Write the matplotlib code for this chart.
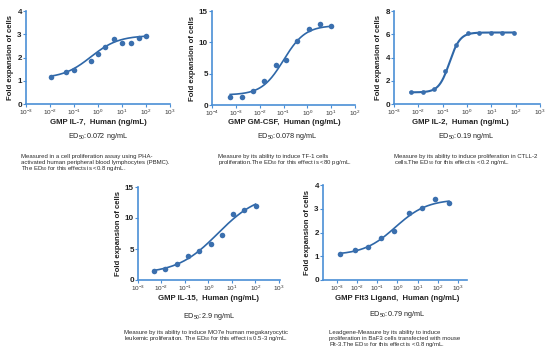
import numpy as np
import matplotlib
matplotlib.use("Agg")
import matplotlib.pyplot as plt

plt.rcParams['font.family'] = ['Liberation Sans', 'DejaVu Sans']
plt.rcParams['mathtext.fontset'] = 'custom'
plt.rcParams['mathtext.rm'] = 'Liberation Sans'
plt.rcParams['mathtext.it'] = 'Liberation Sans'
plt.rcParams['mathtext.bf'] = 'Liberation Sans:bold'

# ---------------- data ----------------
il7_x = [0.0107, 0.048, 0.10, 0.49, 1.0, 2.04, 4.8, 10.0, 24.0, 49.0, 100.0]
il7_y = [1.15, 1.36, 1.47, 1.87, 2.17, 2.46, 2.80, 2.62, 2.61, 2.83, 2.93]
il7_fit = dict(bottom=1.10, top=2.95, logec50=-0.30, hill=0.75)

gm_x = [5.8e-4, 1.8e-3, 5.2e-3, 1.5e-2, 4.7e-2, 0.133, 0.363, 1.17, 3.24, 10.0]
gm_y = [1.23, 1.33, 2.19, 3.84, 6.40, 7.26, 10.20, 12.07, 12.87, 12.65]
gm_fit = dict(bottom=1.60, top=12.70, logec50=-1.00, hill=0.95)

il2_x = [4.8e-3, 1.5e-2, 4.3e-2, 0.13, 0.36, 1.12, 3.24, 9.3, 28.0, 85.0]
il2_y = [1.03, 1.03, 1.26, 2.80, 5.11, 6.14, 6.14, 6.14, 6.14, 6.14]
il2_fit = dict(bottom=1.00, top=6.15, logec50=-0.72, hill=2.0)

il15_x = [4.6e-3, 1.45e-2, 4.4e-2, 0.129, 0.41, 1.26, 3.9, 11.5, 34.0, 102.0]
il15_y = [1.50, 1.71, 2.52, 3.91, 4.60, 5.73, 7.28, 10.60, 11.36, 11.90]
il15_fit = dict(bottom=1.00, top=14.00, logec50=0.40, hill=0.50)

flt_x = [1.5e-3, 7.8e-3, 3.5e-2, 0.162, 0.69, 3.55, 16.6, 76.0, 355.0]
flt_y = [1.09, 1.25, 1.38, 1.75, 2.06, 2.84, 3.05, 3.41, 3.26]
flt_fit = dict(bottom=1.05, top=3.40, logec50=-0.10, hill=0.55)

# ---------------- layout ----------------
W, H = 554, 357
fig = plt.figure(figsize=(W / 100, H / 100), dpi=100)
fig.patch.set_facecolor('white')

AX_COL = '#4a8fd6'
LINE_COL = '#2e67a8'
PT_COL = '#3a6fae'


def frac_rect(l, r, t, b):
    return [l / W, 1 - b / H, (r - l) / W, (b - t) / H]


def fpl(x, p):
    lx = np.log10(x)
    return p['bottom'] + (p['top'] - p['bottom']) / (1 + 10 ** ((p['logec50'] - lx) * p['hill']))


def panel(rect, xs, ys, fit, xlim, xticks, ylim, yticks, ms=4.0, lw=1.2):
    ax = fig.add_axes(rect)
    ax.set_xscale('log')
    xx = np.logspace(np.log10(min(xs)), np.log10(max(xs)), 300)
    ax.plot(xx, fpl(xx, fit), color=LINE_COL, lw=lw, zorder=2)
    ax.plot(xs, ys, 'o', color=PT_COL, ms=ms, mec='none', zorder=3)
    ax.set_xlim(*xlim)
    ax.set_ylim(*ylim)
    ax.set_xticks(xticks)
    ax.set_xticklabels([r'$10^{%d}$' % int(round(np.log10(t))) for t in xticks])
    ax.xaxis.set_minor_locator(matplotlib.ticker.NullLocator())
    ax.set_yticks(yticks)
    ax.set_yticklabels([str(v) for v in yticks], fontweight='bold')
    for s in ['top', 'right']:
        ax.spines[s].set_visible(False)
    for s in ['left', 'bottom']:
        ax.spines[s].set_color(AX_COL)
        ax.spines[s].set_linewidth(1.2)
    ax.tick_params(axis='both', colors=AX_COL, length=2, width=0.8, pad=1)
    ax.tick_params(axis='x', labelsize=4.6, labelcolor='#333333')
    ax.tick_params(axis='y', labelsize=5.8, labelcolor='#222222')
    ax.set_ylabel('Fold expansion of cells', fontsize=5.6, fontweight='bold',
                  color='#222222', labelpad=2)
    ax.patch.set_alpha(0)
    return ax


def ftext(x, y, s, **kw):
    fig.text(x / W, 1 - y / H, s, **kw)


def desc(x, y, lines, step=5.8):
    for i, ln in enumerate(lines):
        fig.text(x / W, 1 - (y + i * step) / H, ln, fontsize=4.3, color='#2a2a2a',
                 ha='left', va='baseline')


decades = lambda a, b: [10.0 ** k for k in range(a, b + 1)]

panel(frac_rect(26, 170, 11, 104), il7_x, il7_y, il7_fit,
      (1e-3, 1e3), decades(-3, 3), (0, 4), [0, 1, 2, 3, 4])
panel(frac_rect(212, 355, 11, 105), gm_x, gm_y, gm_fit,
      (1e-4, 1e2), decades(-4, 2), (0, 15), [0, 5, 10, 15])
panel(frac_rect(394, 540, 11, 104), il2_x, il2_y, il2_fit,
      (1e-3, 1e3), decades(-3, 3), (0, 8), [0, 2, 4, 6, 8], ms=3.4, lw=1.5)
panel(frac_rect(138, 280, 187, 280), il15_x, il15_y, il15_fit,
      (1e-3, 10 ** 3.05), decades(-3, 3), (0, 15), [0, 5, 10, 15])
panel(frac_rect(323, 467, 185, 280), flt_x, flt_y, flt_fit,
      (10 ** -3.69, 10 ** 3.45), decades(-3, 3), (0, 4), [0, 1, 2, 3, 4])

XL = dict(fontsize=5.6, fontweight='bold', color='#222222', ha='center', va='center')
ED = dict(fontsize=5.2, color='#222222', ha='center', va='center')

# top row
ftext(98, 122.5, 'GMP IL-7,  Human (ng/mL)', **XL)
ftext(98, 137, 'ED$_{50}$:0.072 ng/mL', **ED)
desc(21, 158, ['Measured in a cell proliferation assay using PHA-',
               'activated human peripheral blood lymphocytes (PBMC).',
               'The ED$_{50}$ for this effects is <0.8 ng/mL.'])

ftext(284, 122.5, 'GMP GM-CSF,  Human (ng/mL)', **XL)
ftext(287, 137, 'ED$_{50}$:0.078 ng/mL', **ED)
desc(218, 158, ['Measure by its ability to induce TF-1 cells',
                'proliferation.The ED$_{50}$ for this effect is <80 pg/mL.'])

ftext(460, 122.5, 'GMP IL-2,  Human (ng/mL)', **XL)
ftext(466, 137, 'ED$_{50}$:0.19 ng/mL', **ED)
desc(394, 158, ['Measure by its ability to induce proliferation in CTLL-2',
                'cells.The ED$_{50}$ for this effect is <0.2 ng/mL.'])

# bottom row
ftext(208, 298, 'GMP IL-15,  Human (ng/mL)', **XL)
ftext(209, 316, 'ED$_{50}$:2.9 ng/mL', **ED)
desc(124, 334, ['Measure by its ability to induce MO7e human megakaryocytic',
                'leukemic proliferation. The ED$_{50}$ for this effect is 0.5-3 ng/mL.'])

ftext(397, 298, 'GMP Flt3 Ligand,  Human (ng/mL)', **XL)
ftext(397, 314, 'ED$_{50}$:0.79 ng/mL', **ED)
desc(329, 334, ['Leadgene-Measure by its ability to induce',
                'proliferation in BaF3 cells transfected with mouse',
                'Flt-3.The ED$_{50}$ for this effect is <0.8 ng/mL.'])

fig.savefig('out.png', dpi=100, facecolor='white')
